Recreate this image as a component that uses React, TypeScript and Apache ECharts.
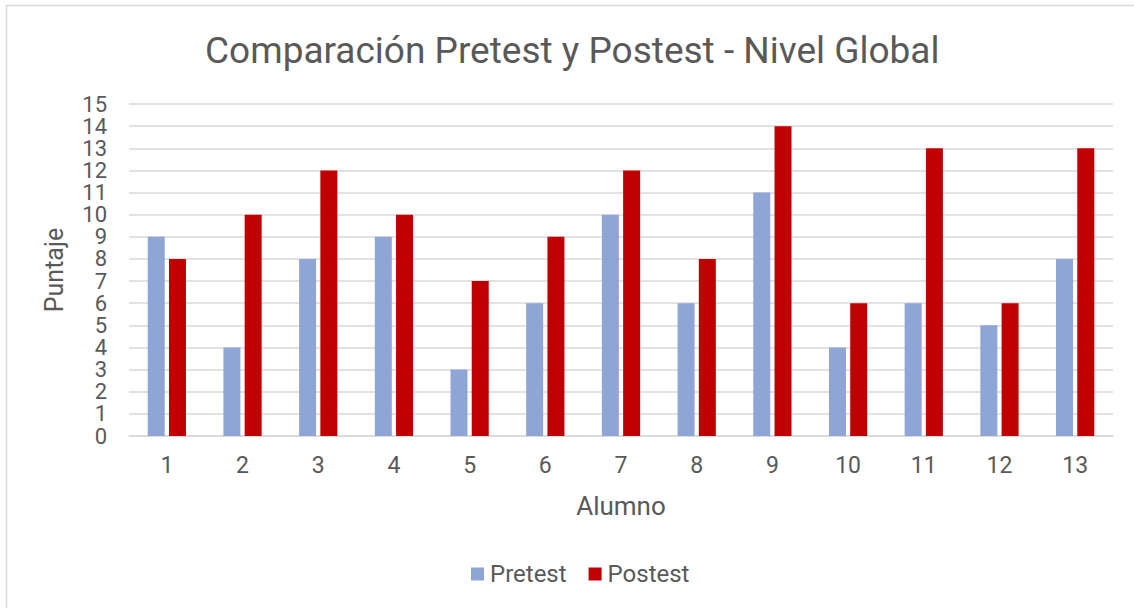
import React, { useEffect, useRef } from "react";
import * as echarts from "echarts";

const categories = ["1", "2", "3", "4", "5", "6", "7", "8", "9", "10", "11", "12", "13"];
const pretest = [9, 4, 8, 9, 3, 6, 10, 6, 11, 4, 6, 5, 8];
const postest = [8, 10, 12, 10, 7, 9, 12, 8, 14, 6, 13, 6, 13];
const titleText = "Comparación Pretest y Postest - Nivel Global";
const xName = "Alumno";
const yName = "Puntaje";

const FONT = "Roboto";
const TEXT = "#595959";

export default function App() {
  const ref = useRef<HTMLDivElement>(null);
  useEffect(() => {
    document.body.style.margin = "0";
    const chart = echarts.init(ref.current!, null, { renderer: "svg" });
    chart.setOption({
      animation: false,
      backgroundColor: "#ffffff",
      textStyle: { fontFamily: FONT, color: TEXT },
      title: {
        text: titleText,
        left: 205,
        top: 32,
        padding: 0,
        textStyle: { fontFamily: FONT, fontSize: 37, fontWeight: "normal", color: TEXT },
      },
      graphic: [
        { type: "line", shape: { x1: 6, y1: 5.5, x2: 1134, y2: 5.5 }, style: { stroke: "#d9d9d9", lineWidth: 1.5 } },
        { type: "line", shape: { x1: 6.5, y1: 5, x2: 6.5, y2: 608 }, style: { stroke: "#d9d9d9", lineWidth: 1.5 } },
      ],
      legend: {
        bottom: 22,
        left: 471,
        padding: 0,
        itemWidth: 13,
        itemHeight: 13,
        itemGap: 22,
        icon: "rect",
        textStyle: { fontFamily: FONT, fontSize: 24, color: TEXT, padding: [0, 0, 0, 1] },
        data: ["Pretest", "Postest"],
      },
      grid: { left: 129, right: 21, top: 104, bottom: 172 },
      xAxis: {
        type: "category",
        data: categories,
        name: xName,
        nameLocation: "middle",
        nameGap: 57,
        nameTextStyle: { fontFamily: FONT, fontSize: 26, color: TEXT },
        axisLine: { lineStyle: { color: "#d9d9d9", width: 1.5 } },
        axisTick: { show: false },
        axisLabel: { fontFamily: FONT, fontSize: 23, color: TEXT, margin: 18 },
      },
      yAxis: {
        type: "value",
        min: 0,
        max: 15,
        interval: 1,
        name: yName,
        nameLocation: "middle",
        nameGap: 62,
        nameTextStyle: { fontFamily: FONT, fontSize: 25, color: TEXT },
        axisLine: { show: false },
        axisTick: { show: false },
        axisLabel: {
          fontFamily: FONT,
          fontSize: 22,
          color: TEXT,
          margin: 22,
          showMinLabel: true,
          showMaxLabel: true,
        },
        splitLine: { lineStyle: { color: "#d9d9d9", width: 1.5 } },
      },
      series: [
        {
          name: "Pretest",
          type: "bar",
          data: pretest,
          barWidth: 17,
          barGap: "25%",
          itemStyle: { color: "#8fa5d6" },
        },
        {
          name: "Postest",
          type: "bar",
          data: postest,
          barWidth: 17,
          barGap: "25%",
          itemStyle: { color: "#c00000" },
        },
      ],
    });
    return () => chart.dispose();
  }, []);
  return <div ref={ref} style={{ width: 1134, height: 608 }} />;
}
